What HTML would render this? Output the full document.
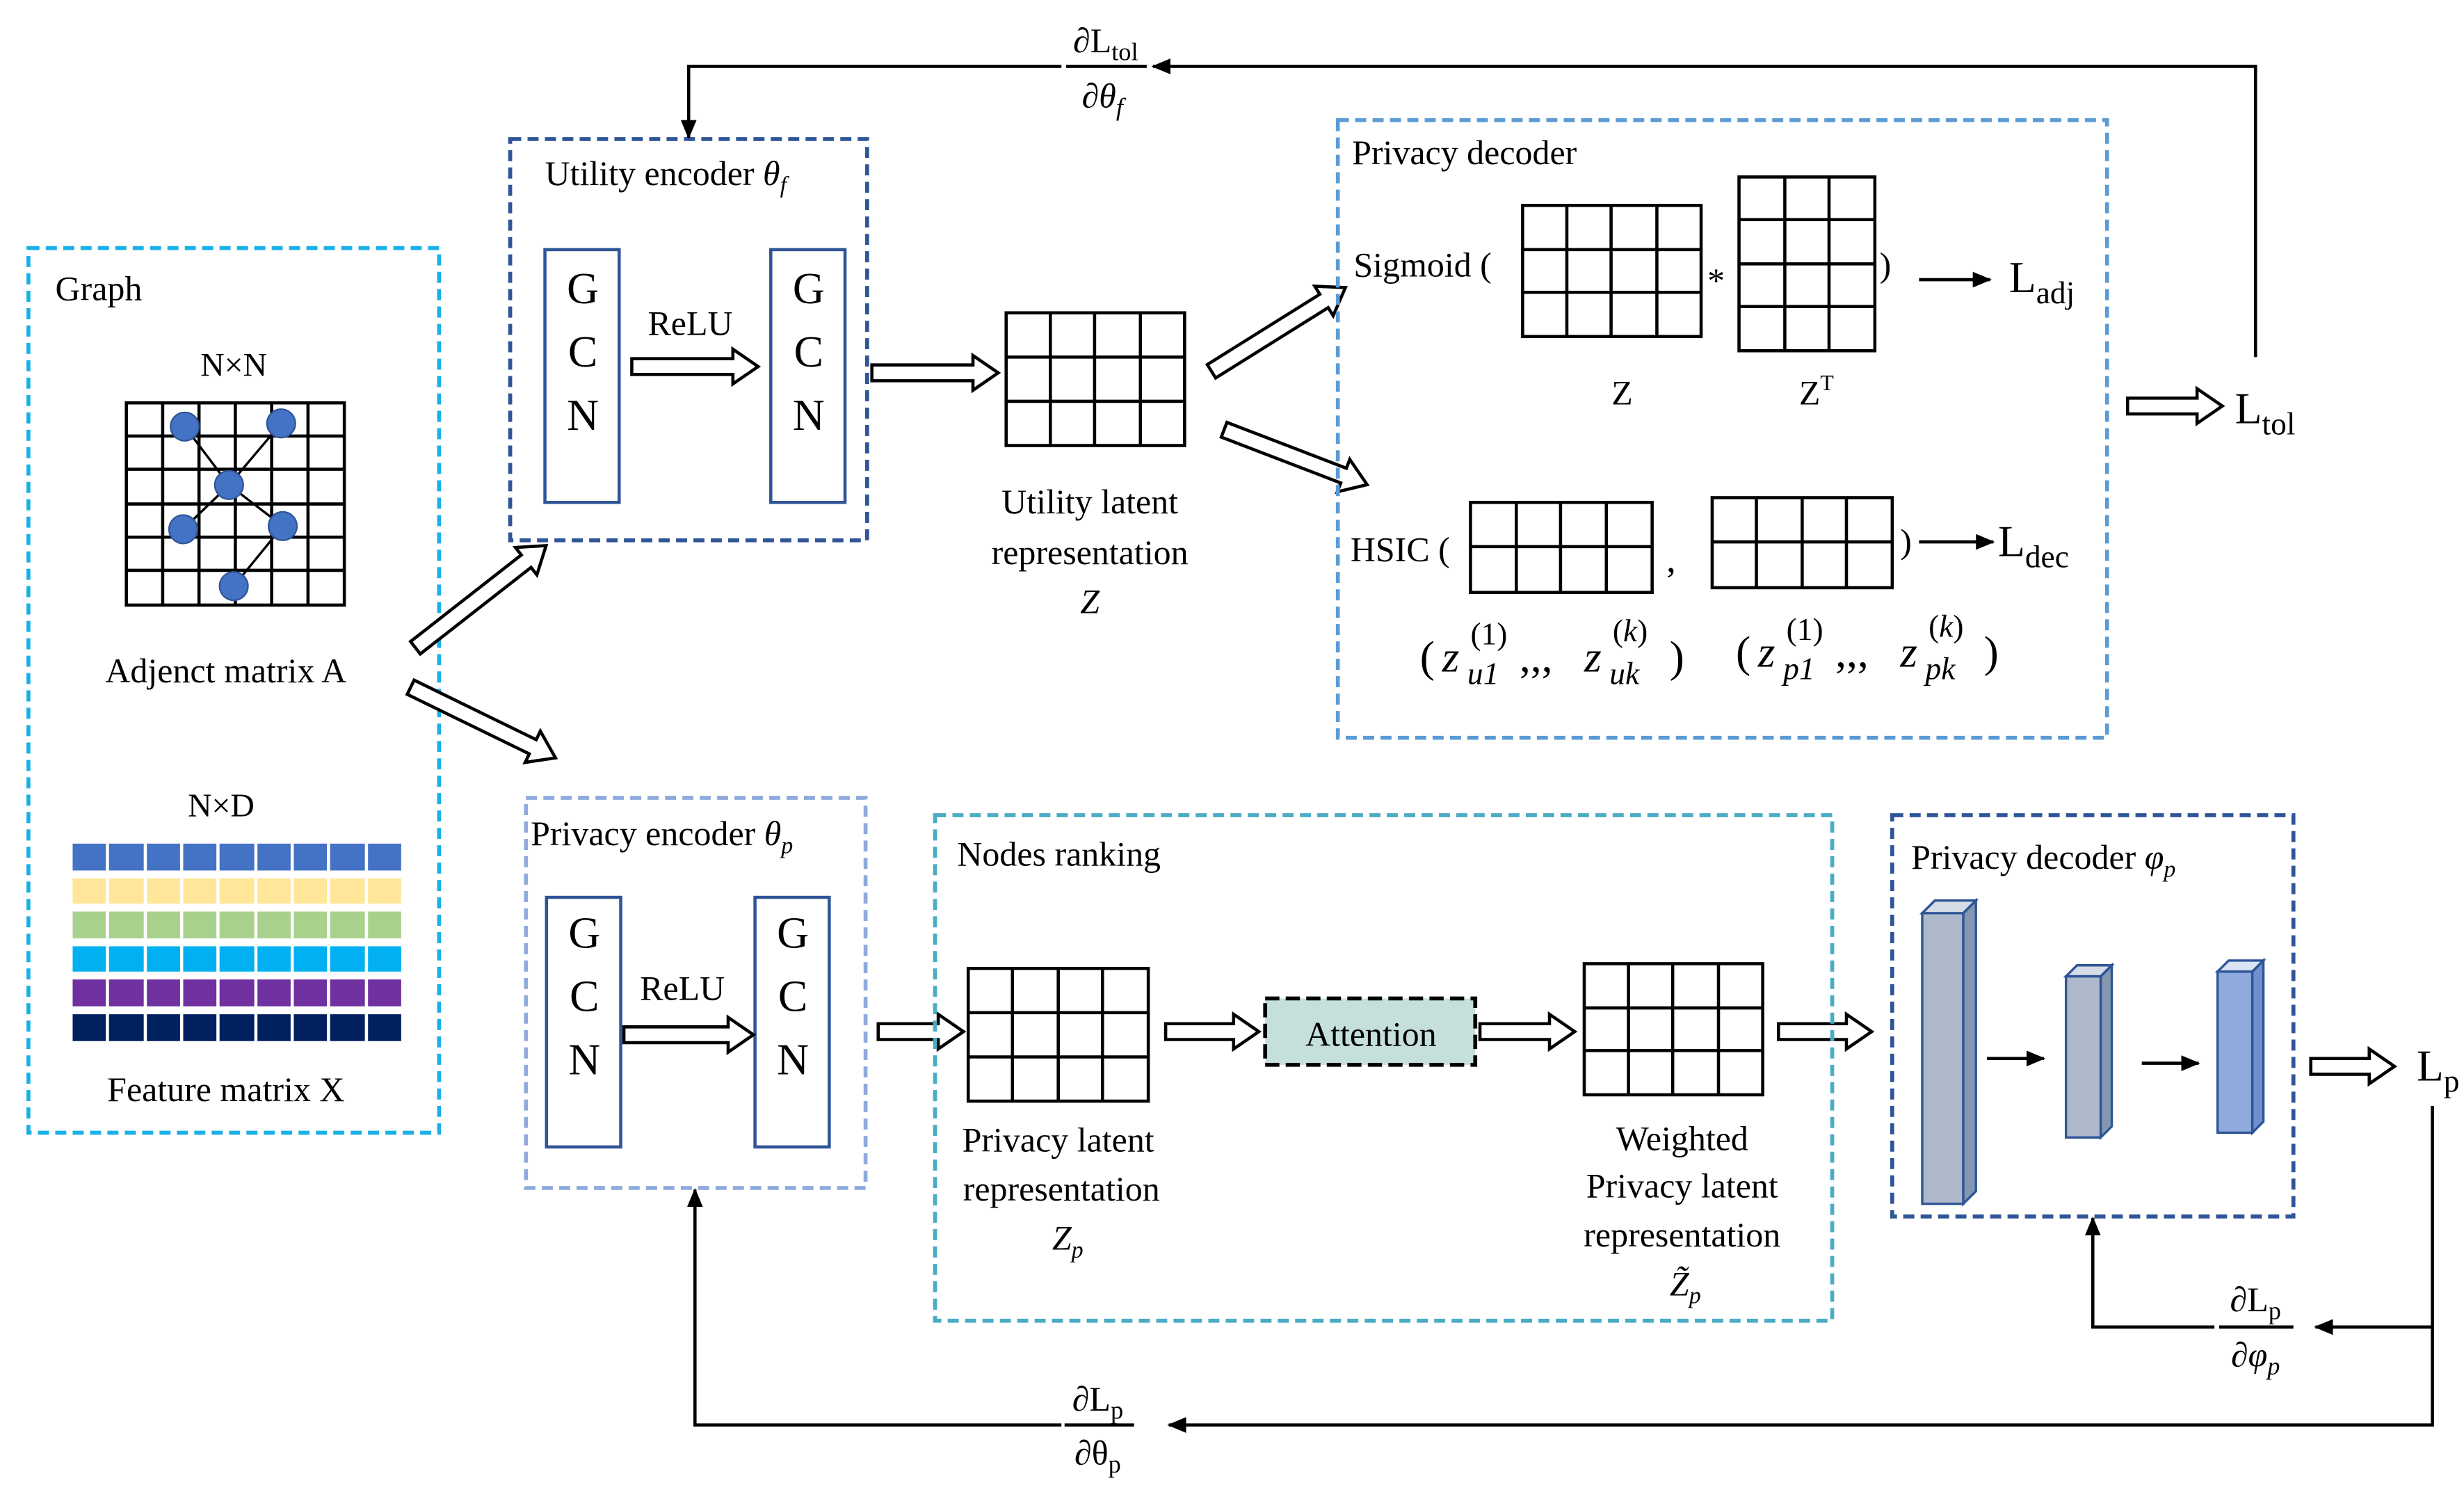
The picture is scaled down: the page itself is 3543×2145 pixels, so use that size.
<!DOCTYPE html>
<html><head><meta charset="utf-8"><style>
html,body{margin:0;padding:0;background:#fff;}
svg{display:block;}
text{font-family:"Liberation Serif",serif;fill:#000;}
</style></head><body>
<svg width="3543" height="2145" viewBox="0 0 1560 944.4" xmlns="http://www.w3.org/2000/svg">
<defs>
<marker id="ah" markerWidth="12" markerHeight="10" refX="11" refY="5" orient="auto" markerUnits="userSpaceOnUse"><path d="M0,0 L12,5 L0,10 z" fill="#000"/></marker>
</defs>
<rect width="1560" height="944.4" fill="#fff"/>

<!-- Graph box -->
<rect x="18" y="157" width="260" height="560" fill="none" stroke="#1ab0e8" stroke-width="2.5" stroke-dasharray="7,4"/>
<text x="35" y="190" font-size="22">Graph</text>
<text x="148" y="238" font-size="21" text-anchor="middle">N×N</text>
<g stroke="#000" stroke-width="2" fill="none">
<rect x="80" y="255" width="138" height="128"/>
<path d="M103,255V383M126,255V383M149,255V383M172,255V383M195,255V383M80,276H218M80,297H218M80,319H218M80,340H218M80,361H218"/>
<path d="M117,270L145,307L178,268M145,307L116,335M145,307L179,333L148,371" stroke-width="1.5"/>
</g>
<g fill="#4472c4" stroke="#2f5597" stroke-width="1">
<circle cx="117" cy="270" r="9"/><circle cx="178" cy="268" r="9"/><circle cx="145" cy="307" r="9"/>
<circle cx="116" cy="335" r="9"/><circle cx="179" cy="333" r="9"/><circle cx="148" cy="371" r="9"/>
</g>
<text x="143" y="432" font-size="22" text-anchor="middle">Adjenct matrix A</text>
<text x="140" y="517" font-size="21" text-anchor="middle">N×D</text>
<g stroke="#fff" stroke-width="2">
<rect x="45" y="533" width="210" height="19" fill="#4472c4"/>
<rect x="45" y="555" width="210" height="18" fill="#ffe699"/>
<rect x="45" y="576" width="210" height="19" fill="#a9d18e"/>
<rect x="45" y="598" width="210" height="18" fill="#00b0f0"/>
<rect x="45" y="619" width="210" height="19" fill="#7030a0"/>
<rect x="45" y="641" width="210" height="19" fill="#002060"/>
<path d="M68,533V660M92,533V660M115,533V660M138,533V660M162,533V660M185,533V660M208,533V660M232,533V660"/>
</g>
<text x="143" y="697" font-size="22" text-anchor="middle">Feature matrix X</text>

<g fill="#fff" stroke="#000" stroke-width="2">
<polygon transform="translate(263,410) rotate(-38)" points="0,-5 89,-5 89,-11 105,0 89,11 89,5 0,5"/>
<polygon transform="translate(260,435) rotate(26)" points="0,-5 86,-5 86,-11 102,0 86,11 86,5 0,5"/>
</g>

<!-- Utility encoder -->
<rect x="323" y="88" width="226" height="254" fill="none" stroke="#2f5597" stroke-width="2.5" stroke-dasharray="7,4"/>
<text x="345" y="117" font-size="22">Utility encoder <tspan font-style="italic">θ</tspan><tspan font-style="italic" font-size="15" dy="5">f</tspan></text>
<rect x="345" y="158" width="47" height="160" fill="#fff" stroke="#2f5597" stroke-width="2"/>
<rect x="488" y="158" width="47" height="160" fill="#fff" stroke="#2f5597" stroke-width="2"/>
<g font-size="28" text-anchor="middle">
<text x="369" y="192">G</text><text x="369" y="232">C</text><text x="369" y="272">N</text>
<text x="512" y="192">G</text><text x="512" y="232">C</text><text x="512" y="272">N</text>
</g>
<text x="437" y="212" font-size="22" text-anchor="middle">ReLU</text>
<g fill="#fff" stroke="#000" stroke-width="2">
<polygon points="400,227 464,227 464,221 480,232 464,243 464,237 400,237"/>
<polygon points="552,231 616,231 616,225 632,236 616,247 616,241 552,241"/>
<polygon transform="translate(767,235) rotate(-32)" points="0,-5 84,-5 84,-11 100,0 84,11 84,5 0,5"/>
<polygon transform="translate(775,272) rotate(21)" points="0,-5 81,-5 81,-11 97,0 81,11 81,5 0,5"/>
</g>
<g stroke="#000" stroke-width="2" fill="none">
<rect x="637" y="198" width="113" height="84"/>
<path d="M665,198V282M693,198V282M722,198V282M637,226H750M637,254H750"/>
</g>
<g font-size="22" text-anchor="middle">
<text x="690" y="325">Utility latent</text>
<text x="690" y="357">representation</text>
<text x="690" y="388" font-style="italic">Z</text>
</g>

<!-- Privacy decoder top -->
<rect x="847" y="76" width="487" height="391" fill="none" stroke="#5b9bd5" stroke-width="2.5" stroke-dasharray="7,4"/>
<text x="856" y="104" font-size="22">Privacy decoder</text>
<text x="857" y="175" font-size="22">Sigmoid (</text>
<g stroke="#000" stroke-width="2" fill="none">
<rect x="964" y="130" width="113" height="83"/>
<path d="M992,130V213M1020,130V213M1049,130V213M964,158H1077M964,185H1077"/>
<rect x="1101" y="112" width="86" height="110"/>
<path d="M1130,112V222M1158,112V222M1101,139H1187M1101,167H1187M1101,194H1187"/>
<rect x="931" y="318" width="115" height="57"/>
<path d="M960,318V375M988,318V375M1017,318V375M931,346H1046"/>
<rect x="1084" y="315" width="114" height="57"/>
<path d="M1112,315V372M1141,315V372M1169,315V372M1084,343H1198"/>
</g>
<line x1="1215" y1="177" x2="1260" y2="177" stroke="#000" stroke-width="2" marker-end="url(#ah)"/>
<line x1="1215" y1="343" x2="1262" y2="343" stroke="#000" stroke-width="2" marker-end="url(#ah)"/>
<text x="1081" y="185" font-size="22">*</text>
<text x="1190" y="175" font-size="22">)</text>
<text x="1272" y="185" font-size="28">L<tspan font-size="20" dy="7">adj</tspan></text>
<text x="1027" y="256" font-size="22" text-anchor="middle">Z</text>
<text x="1150" y="256" font-size="22" text-anchor="middle">Z<tspan font-size="14" dy="-9">T</tspan></text>
<text x="855" y="355" font-size="22">HSIC (</text>
<text x="1055" y="362" font-size="24">,</text>
<text x="1203" y="350" font-size="22">)</text>
<text x="1265" y="352" font-size="28">L<tspan font-size="20" dy="7">dec</tspan></text>

<!-- z terms -->
<g font-size="28">
<text x="899" y="425">(</text>
<text x="913" y="425" font-style="italic">z</text>
<text x="929" y="433" font-size="20" font-style="italic">u1</text>
<text x="931" y="408" font-size="20">(1)</text>
<text x="962" y="425">,,,</text>
<text x="1003" y="425" font-style="italic">z</text>
<text x="1019" y="433" font-size="20" font-style="italic">uk</text>
<text x="1021" y="406" font-size="20">(<tspan font-style="italic">k</tspan>)</text>
<text x="1057" y="425">)</text>

<text x="1099" y="422">(</text>
<text x="1113" y="422" font-style="italic">z</text>
<text x="1129" y="430" font-size="20" font-style="italic">p1</text>
<text x="1131" y="405" font-size="20">(1)</text>
<text x="1162" y="422">,,,</text>
<text x="1203" y="422" font-style="italic">z</text>
<text x="1219" y="430" font-size="20" font-style="italic">pk</text>
<text x="1221" y="403" font-size="20">(<tspan font-style="italic">k</tspan>)</text>
<text x="1256" y="422">)</text>
</g>

<polygon points="1347,252 1391,252 1391,246 1407,257 1391,268 1391,262 1347,262" fill="#fff" stroke="#000" stroke-width="2"/>
<text x="1415" y="268" font-size="28">L<tspan font-size="20" dy="7">tol</tspan></text>

<!-- top feedback -->
<g stroke="#000" stroke-width="2" fill="none">
<path d="M1428,226V42H730" marker-end="url(#ah)"/>
<path d="M672,42H436V87" marker-end="url(#ah)"/>
<line x1="675" y1="42" x2="726" y2="42"/>
</g>
<text x="700" y="33" font-size="22" text-anchor="middle">∂L<tspan font-size="16" dy="5">tol</tspan></text>
<text x="698" y="68" font-size="22" text-anchor="middle">∂<tspan font-style="italic">θ</tspan><tspan font-size="16" font-style="italic" dy="5">f</tspan></text>

<!-- Privacy encoder -->
<rect x="333" y="505" width="215" height="247" fill="none" stroke="#8faadc" stroke-width="2.5" stroke-dasharray="7,4"/>
<text x="336" y="535" font-size="22">Privacy encoder <tspan font-style="italic">θ</tspan><tspan font-style="italic" font-size="15" dy="5">p</tspan></text>
<rect x="346" y="568" width="47" height="158" fill="#fff" stroke="#2f5597" stroke-width="2"/>
<rect x="478" y="568" width="47" height="158" fill="#fff" stroke="#2f5597" stroke-width="2"/>
<g font-size="28" text-anchor="middle">
<text x="370" y="600">G</text><text x="370" y="640">C</text><text x="370" y="680">N</text>
<text x="502" y="600">G</text><text x="502" y="640">C</text><text x="502" y="680">N</text>
</g>
<text x="432" y="633" font-size="22" text-anchor="middle">ReLU</text>
<g fill="#fff" stroke="#000" stroke-width="2">
<polygon points="395,650 461,650 461,644 477,655 461,666 461,660 395,660"/>
<polygon points="556,648 594,648 594,642 610,653 594,664 594,658 556,658"/>
<polygon points="738,648 781,648 781,642 797,653 781,664 781,658 738,658"/>
<polygon points="937,648 981,648 981,642 997,653 981,664 981,658 937,658"/>
<polygon points="1126,648 1169,648 1169,642 1185,653 1169,664 1169,658 1126,658"/>
<polygon points="1463,670 1500,670 1500,664 1516,675 1500,686 1500,680 1463,680"/>
</g>

<!-- Nodes ranking -->
<rect x="592" y="516" width="568" height="320" fill="none" stroke="#4bacc6" stroke-width="2.5" stroke-dasharray="7,4"/>
<text x="606" y="548" font-size="22">Nodes ranking</text>
<g stroke="#000" stroke-width="2" fill="none">
<rect x="613" y="613" width="114" height="84"/>
<path d="M641,613V697M670,613V697M698,613V697M613,641H727M613,669H727"/>
<rect x="1003" y="610" width="113" height="83"/>
<path d="M1031,610V693M1059,610V693M1088,610V693M1003,638H1116M1003,665H1116"/>
</g>
<rect x="801" y="632" width="133" height="42" fill="#c5e0da" stroke="#000" stroke-width="2.5" stroke-dasharray="9,4"/>
<text x="868" y="662" font-size="22" text-anchor="middle">Attention</text>
<g font-size="22" text-anchor="middle">
<text x="670" y="729">Privacy latent</text>
<text x="672" y="760">representation</text>
<text x="676" y="791" font-style="italic">Z<tspan font-size="15" dy="5">p</tspan></text>
<text x="1065" y="728">Weighted</text>
<text x="1065" y="758">Privacy latent</text>
<text x="1065" y="789">representation</text>
<text x="1067" y="820" font-style="italic">Z̃<tspan font-size="15" dy="5">p</tspan></text>
</g>

<!-- Privacy decoder phi -->
<rect x="1198" y="516" width="254" height="254" fill="none" stroke="#2f5597" stroke-width="2.5" stroke-dasharray="7,4"/>
<text x="1210" y="550" font-size="22">Privacy decoder  <tspan font-style="italic">φ</tspan><tspan font-style="italic" font-size="15" dy="5">p</tspan></text>
<g stroke="#2f5597" stroke-width="1.5">
<rect x="1217" y="578" width="26" height="184" fill="#adb9ca"/>
<polygon points="1217,578 1225,570 1251,570 1243,578" fill="#d6dce5"/>
<polygon points="1243,578 1251,570 1251,754 1243,762" fill="#8497b0"/>
<rect x="1308" y="618" width="22" height="102" fill="#adb9ca"/>
<polygon points="1308,618 1315,611 1337,611 1330,618" fill="#d6dce5"/>
<polygon points="1330,618 1337,611 1337,713 1330,720" fill="#8497b0"/>
<rect x="1404" y="615" width="22" height="102" fill="#8faadc"/>
<polygon points="1404,615 1411,608 1433,608 1426,615" fill="#dae3f3"/>
<polygon points="1426,615 1433,608 1433,710 1426,717" fill="#6f8fcf"/>
</g>
<line x1="1258" y1="670" x2="1294" y2="670" stroke="#000" stroke-width="2" marker-end="url(#ah)"/>
<line x1="1356" y1="673" x2="1392" y2="673" stroke="#000" stroke-width="2" marker-end="url(#ah)"/>
<text x="1530" y="684" font-size="28">L<tspan font-size="20" dy="7">p</tspan></text>

<!-- bottom feedback -->
<g stroke="#000" stroke-width="2" fill="none">
<path d="M1540,700V902H740" marker-end="url(#ah)"/>
<path d="M672,902H440V753" marker-end="url(#ah)"/>
<line x1="674" y1="902" x2="718" y2="902"/>
<path d="M1540,840H1466" marker-end="url(#ah)"/>
<path d="M1402,840H1325V771" marker-end="url(#ah)"/>
<line x1="1405" y1="840" x2="1452" y2="840"/>
</g>
<text x="695" y="893" font-size="22" text-anchor="middle">∂L<tspan font-size="16" dy="5">p</tspan></text>
<text x="695" y="927" font-size="22" text-anchor="middle">∂θ<tspan font-size="16" dy="5">p</tspan></text>
<text x="1428" y="830" font-size="22" text-anchor="middle">∂L<tspan font-size="16" dy="5">p</tspan></text>
<text x="1428" y="865" font-size="22" text-anchor="middle">∂<tspan font-style="italic">φ</tspan><tspan font-size="16" font-style="italic" dy="5">p</tspan></text>
</svg>
</body></html>
